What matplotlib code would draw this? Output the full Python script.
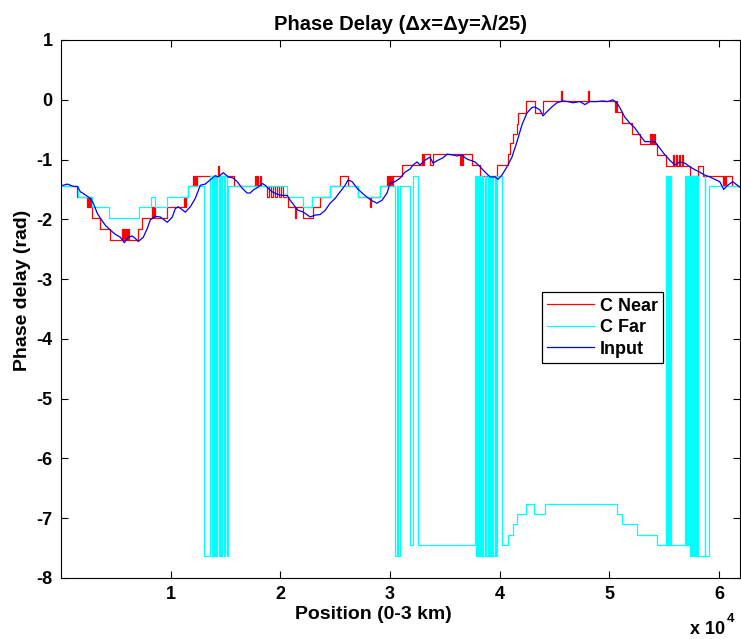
import matplotlib
matplotlib.use("Agg")
import matplotlib.pyplot as plt
import numpy as np

plt.rcParams['font.family'] = ['Liberation Sans', 'DejaVu Sans']
plt.rcParams['axes.unicode_minus'] = False

# ---------------- data ----------------
input_x = [0, 580, 1130, 1490, 1770, 2220, 2680, 2950, 3310, 3590, 4040, 4500, 4950, 5410, 5770,
           6140, 6500, 6780, 7050, 7500, 7870, 8140, 8600, 9050, 9690, 10150, 10420, 10690, 11060,
           11330, 11790, 12240, 12700, 13150, 13610, 14060, 14330, 14790, 15250, 15700, 16060,
           16520, 16970, 17250, 17520, 17980, 18340, 18620, 18890, 19250, 19710, 20160, 20620,
           20890, 21350, 21620, 21980, 22260, 22710, 23170, 23620, 24080, 24530, 24990, 25440,
           25900, 26170, 26540, 26990, 27450, 27900, 28360, 28810, 29270, 29720, 30000, 30450,
           30910, 31360, 31820, 32090, 32460, 32730, 33190, 33640, 33920, 34370, 34830, 35190,
           35650, 36100, 36560, 36830, 37110, 37470, 37750, 38200, 38660, 39110, 39570, 39840,
           40200, 40660, 41110, 41570, 42020, 42480, 42930, 43210, 43660, 43940, 44300, 44750,
           45210, 45750, 46210, 46660, 47300, 47760, 48210, 48850, 49390, 49850, 50300, 50670,
           50940, 51400, 51850, 52310, 52770, 53220, 53680, 54130, 54590, 55050, 55500, 55960,
           56410, 56870, 57320, 57780, 58230, 58690, 59140, 59600, 60050, 60420, 60780, 61240, 61870]
input_y = [-1.44, -1.41, -1.45, -1.45, -1.54, -1.59, -1.65, -1.73, -1.90, -1.98, -2.10, -2.18, -2.25,
           -2.30, -2.39, -2.30, -2.28, -2.32, -2.37, -2.30, -2.15, -2.01, -1.95, -1.96, -2.05, -1.96,
           -1.82, -1.79, -1.84, -1.88, -1.79, -1.65, -1.43, -1.41, -1.34, -1.27, -1.29, -1.22, -1.29,
           -1.31, -1.37, -1.48, -1.56, -1.56, -1.51, -1.46, -1.40, -1.43, -1.48, -1.54, -1.58, -1.60,
           -1.60, -1.68, -1.79, -1.85, -1.87, -1.90, -1.96, -1.93, -1.92, -1.85, -1.73, -1.65, -1.54,
           -1.43, -1.34, -1.37, -1.48, -1.56, -1.63, -1.69, -1.73, -1.68, -1.56, -1.40, -1.37, -1.31,
           -1.21, -1.16, -1.09, -1.04, -1.09, -1.01, -0.96, -1.06, -1.01, -0.97, -0.91, -0.92, -0.94,
           -0.92, -0.97, -1.00, -1.02, -1.04, -1.12, -1.21, -1.29, -1.29, -1.33, -1.26, -1.12, -0.96,
           -0.70, -0.42, -0.22, -0.13, -0.12, -0.17, -0.27, -0.20, -0.12, -0.05, -0.02, -0.03, -0.05,
           -0.03, -0.08, -0.03, -0.03, -0.02, -0.03, 0.00, -0.05, -0.13, -0.29, -0.39, -0.47, -0.59,
           -0.70, -0.70, -0.70, -0.81, -0.92, -1.01, -1.09, -1.04, -1.06, -1.12, -1.17, -1.21, -1.26,
           -1.29, -1.33, -1.37, -1.50, -1.43, -1.37, -1.46]

near_x = [0, 1490, 2400, 2500, 2590, 2680, 2770, 2860, 3590, 4500,
          5590, 5680, 5770, 5860, 5960, 6050, 6140, 6230, 7050, 7410,
          8320, 8420, 8510, 8600, 9690, 11240, 11330, 11420, 11600,
          12060, 12150, 12240, 12330, 12420, 14290, 14370, 15800,
          17700, 17790, 17880, 17980, 18160, 18250,
          18800, 18980, 19160, 19340, 19520, 19700, 19890, 20070, 20250,
          20710, 21310, 21400, 22080, 22990, 23620, 24530, 25440, 26170, 27080,
          28170, 28270, 29090, 29730, 29820, 29910, 30000, 30090, 30180, 30270,
          31090, 32910, 33000, 33090, 33640, 33910, 36370, 36460, 36550, 36640,
          37460, 38190, 39740, 40740, 40930, 41200, 41570, 41650, 42390, 43200, 43930,
          45620, 45700, 48080, 48160, 50500, 50580, 50670, 51130, 52040, 52770,
          53680, 53770, 53860, 53950, 54040, 54130, 54310, 55130,
          55770, 55860, 56040, 56130, 56310, 56410, 56590, 56680,
          57320, 58050, 58500, 60320, 60420, 60510, 60600, 61140, 61900]
near_y = [-1.44, -1.62, -1.80, -1.62, -1.80, -1.62, -1.80, -1.98, -2.16, -2.34,
          -2.16, -2.34, -2.16, -2.34, -2.16, -2.34, -2.16, -2.34, -2.16, -1.98,
          -1.80, -1.98, -1.80, -1.98, -1.80, -1.62, -1.80, -1.62, -1.44,
          -1.27, -1.44, -1.27, -1.44, -1.27, -1.10, -1.27, -1.44,
          -1.27, -1.44, -1.27, -1.44, -1.27, -1.44,
          -1.62, -1.44, -1.62, -1.44, -1.62, -1.44, -1.62, -1.44, -1.62,
          -1.80, -1.98, -1.80, -1.98, -1.80, -1.62, -1.44, -1.27, -1.44, -1.62,
          -1.80, -1.62, -1.44, -1.27, -1.44, -1.27, -1.44, -1.27, -1.44, -1.27,
          -1.09, -0.91, -1.09, -0.91, -1.09, -0.91, -1.09, -0.91, -1.09, -0.91,
          -1.09, -1.27, -1.09, -0.91, -0.73, -0.57, -0.40, -0.22, -0.02, -0.22, -0.02,
          0.15, -0.02, 0.15, -0.02, -0.20, -0.02, -0.20, -0.39, -0.57, -0.74,
          -0.57, -0.74, -0.57, -0.74, -0.57, -0.74, -0.92, -1.11,
          -0.92, -1.11, -0.92, -1.11, -0.92, -1.11, -0.92, -1.11,
          -1.27, -1.11, -1.27, -1.45, -1.27, -1.45, -1.27, -1.45, -1.45]

far_x = [0, 1580, 2860, 4410, 7140, 8230, 8600, 9690, 11600,
         13060, 13610, 13790, 13880, 13970, 14060, 14150, 14240, 14420, 14520,
         14610, 14700, 14880, 14970, 15110, 15200,
         20620, 22080, 22900, 24530, 27080, 29090,
         30450, 30630, 30720, 30900, 31860, 32090, 32540,
         37740, 37800, 37880, 37940, 38010, 38100, 38190, 38280, 38370, 38460,
         38650, 38740, 38920, 39010, 39100, 39190, 39290, 39380, 39560, 39650, 39740,
         40200, 40750, 41200, 41570, 42390, 43110, 44110, 50670, 51130, 52500, 54310,
         55130, 55200, 55270, 55340, 55400, 55470, 55540, 55610,
         56870, 56960, 57050, 57140, 57230, 57320, 57410, 57500, 57590, 57680,
         57780, 57870, 57960, 58050, 58540, 58680, 58730, 59050, 61900]
far_y = [-1.44, -1.62, -1.80, -1.98, -1.80, -1.62, -1.80, -1.62, -1.44,
         -7.63, -1.27, -7.63, -1.27, -7.63, -1.27, -7.63, -1.27, -7.63, -1.27,
         -7.63, -1.27, -7.63, -1.27, -7.63, -1.44,
         -1.62, -1.80, -1.62, -1.44, -1.62, -1.44,
         -7.63, -1.44, -7.63, -1.44, -7.45, -1.27, -7.45,
         -1.27, -7.63, -1.27, -7.63, -1.27, -7.63, -1.27, -7.63, -1.27, -7.63,
         -1.27, -7.63, -1.27, -7.63, -1.27, -7.63, -1.27, -7.63, -1.27, -7.63, -1.27,
         -7.45, -7.28, -7.10, -6.93, -6.76, -6.93, -6.76, -6.93, -7.10, -7.28, -7.45,
         -1.27, -7.45, -1.27, -7.45, -1.27, -7.45, -1.27, -7.45,
         -1.27, -7.45, -1.27, -7.45, -1.27, -7.63, -1.27, -7.63, -1.27, -7.63,
         -1.27, -7.63, -1.27, -7.63, -7.63, -1.27, -7.63, -1.44, -1.44]

x_ticks = [10000, 20000, 30000, 40000, 50000, 60000]
x_tick_labels = ['1', '2', '3', '4', '5', '6']
y_ticks = [1, 0, -1, -2, -3, -4, -5, -6, -7, -8]

# ---------------- figure ----------------
fig = plt.figure(figsize=(7.41, 6.39), dpi=100)
ax = fig.add_axes([61/741, 1-578/639, 679/741, 538/639])

ax.plot(near_x, near_y, color='#ff0000', lw=0.9, drawstyle='steps-post', label='C Near')
ax.plot(far_x, far_y, color='#00ffff', lw=0.9, drawstyle='steps-post', label='C Far')
ax.plot(input_x, input_y, color='#0000ff', lw=0.9, label='Input')

ax.set_xlim(0, 61900)
ax.set_ylim(-8, 1)
ax.set_xticks(x_ticks)
ax.set_xticklabels(x_tick_labels)
ax.set_yticks(y_ticks)
ax.set_yticklabels([str(v) for v in y_ticks])
ax.tick_params(direction='in', top=True, right=True, length=5, width=0.8,
               labelsize=13, pad=6)
for lbl in ax.get_xticklabels() + ax.get_yticklabels():
    lbl.set_fontweight('bold')
for s in ax.spines.values():
    s.set_linewidth(0.8)

ax.set_title('Phase Delay (\u0394x=\u0394y=\u03bb/25)', fontsize=14.5, fontweight='bold', pad=7)
ax.set_xlabel('Position (0-3 km)', fontsize=14, fontweight='bold', labelpad=2)
ax.xaxis.label.set_x((373 - 61) / 679)
ax.set_ylabel('Phase delay (rad)', fontsize=14, fontweight='bold', labelpad=4)
ax.yaxis.label.set_y((578 - 290) / 538)

leg = ax.legend(loc='upper right', bbox_to_anchor=(0.90, 0.548),
                prop={'weight': 'bold', 'size': 13}, fancybox=False, framealpha=1,
                edgecolor='black', handlelength=2.6, borderpad=0.3, labelspacing=0.25,
                handletextpad=0.3)
leg.get_frame().set_linewidth(0.9)

fig.text(690/741, 1-634/639, 'x 10', fontsize=13, fontweight='bold', ha='left', va='baseline')
fig.text(727/741, 1-622/639, '4', fontsize=9.5, fontweight='bold', ha='left', va='baseline')

fig.savefig('out.png', dpi=100)
